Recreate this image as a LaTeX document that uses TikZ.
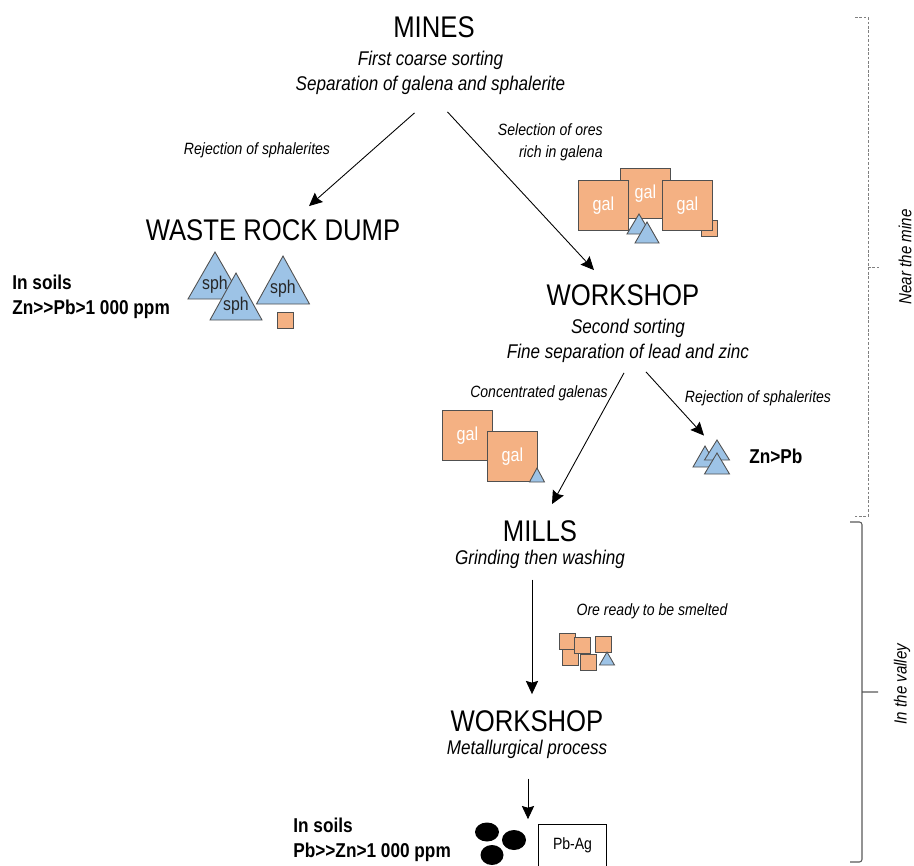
\documentclass[tikz,border=0pt]{standalone}
\usepackage{fontspec}
\setmainfont[FakeStretch=0.86]{Liberation Sans}
\usetikzlibrary{positioning, arrows.meta, shapes.geometric}
\definecolor{oreorange}{HTML}{F4B183}
\definecolor{oreblue}{HTML}{9DC3E6}
\definecolor{oreline}{HTML}{505050}
\tikzset{
  steptitle/.style={font=\fontsize{17}{18}\selectfont, inner sep=0pt},
  stepnote/.style={font=\fontsize{11.3}{14}\selectfont\itshape, align=center, inner sep=0pt},
  flownote/.style={font=\fontsize{9.3}{12.4}\selectfont\itshape, inner sep=0pt},
  soilnote/.style={font=\fontsize{11.4}{14}\selectfont\bfseries, align=left, anchor=west, inner sep=0pt},
  flow/.style={->, >={Stealth[length=7.5pt,width=7pt,inset=1pt]}, line width=.5pt},
  oresquare/.style={draw=oreline, fill=oreorange, line width=.5pt, anchor=north west, inner sep=0pt, text=white, font=\fontsize{10.7}{10}\selectfont},
  oretriangle/.style={draw=oreline, fill=oreblue, line width=.5pt, line join=miter},
  oretext/.style={inner sep=0pt, font=\fontsize{10.5}{10}\selectfont, text=black!85},
  leadgrain/.style={fill=black, ellipse, inner sep=0pt},
  sidenote/.style={font=\fontsize{10}{10}\selectfont\itshape, rotate=90, inner sep=0pt},
}
\newcommand{\oresq}[5]{\node[oresquare, minimum size=#4*.02cm] (#1) at (#2,#3) {#5};}
\newcommand{\oretri}[6]{\draw[oretriangle] (#2,#3) -- ++(#4/2,#5) -- ++(-#4,0) -- cycle;
\node[oretext] (#1) at (#2,{#3+#5*.69}) {#6};}
\newcommand{\grain}[5]{\node[leadgrain, minimum width=#4*.02cm, minimum height=#5*.02cm] (#1) at (#2,#3) {};}

\begin{document}
\begin{tikzpicture}[x=.02cm, y=-.02cm]
\useasboundingbox (0,0) rectangle (914,866);

% steps of the chain
\node[steptitle] (mines) at (434,27) {MINES};
\node[stepnote, below=7.5pt of mines, xshift=-3.5*.02cm] (minesnote) {First coarse sorting\\Separation of galena and sphalerite};
\node[steptitle] (waste) at (273,230) {WASTE ROCK DUMP};
\node[steptitle] (shopa) at (623,295) {WORKSHOP};
\node[stepnote, below=7.5pt of shopa, xshift=5*.02cm] (shopanote) {Second sorting\\Fine separation of lead and zinc};
\node[steptitle] (mills) at (540,531) {MILLS};
\node[stepnote, below=4.2pt of mills] (millsnote) {Grinding then washing};
\node[steptitle] (shopb) at (527,721) {WORKSHOP};
\node[stepnote, below=4.2pt of shopb] (shopbnote) {Metallurgical process};

% texts beside the arrows
\node[flownote] (rejecta) at (257,150) {Rejection of sphalerites};
\node[flownote, align=right, anchor=east] (select) at (603,142) {Selection of ores\\rich in galena};
\node[flownote] (concen) at (539,393) {Concentrated galenas};
\node[flownote] (rejectb) at (758,398) {Rejection of sphalerites};
\node[flownote] (ready) at (652,611) {Ore ready to be smelted};

\node[soilnote] (soila) at (12,297) {In soils\\Zn>{}>Pb>1 000 ppm};
\node[soilnote] (soilb) at (293,840) {In soils\\Pb>{}>Zn>1 000 ppm};
\node[soilnote] (znpb) at (749,456) {Zn>Pb};

% waste rock
\oretri{spha}{215}{252}{54}{47}{sph}
\oretri{sphb}{236}{273}{52}{47}{sph}
\oretri{sphc}{283}{256}{53}{48}{sph}
\oresq{wastesq}{277}{312}{16}{}

% rich ores
\oresq{galb}{620}{168}{50}{gal}
\oresq{smallsq}{701}{220}{16}{}
\oresq{gala}{578}{180}{50}{gal}
\oresq{galc}{662}{180}{50}{gal}
\oretri{richa}{639}{214}{24}{20}{}
\oretri{richb}{647}{222}{24}{21}{}

% concentrated ores
\oresq{gald}{442}{410}{50}{gal}
\oresq{gale}{487}{431}{50}{gal}
\oretri{conctri}{537}{468}{15}{14}{}

% rejected ores
\oretri{reja}{705}{446}{24}{21}{}
\oretri{rejb}{717}{440}{25}{20}{}
\oretri{rejc}{717}{453}{25}{21}{}

% ready ores
\oresq{reada}{562}{649}{16}{}
\oresq{readb}{559}{633}{16}{}
\oresq{readc}{574}{637}{16}{}
\oresq{readd}{580}{654}{16}{}
\oresq{reade}{595}{636}{16}{}
\oretri{readtri}{607}{652}{15}{13}{}

% metal
\grain{graina}{487}{832}{24}{19}
\grain{grainb}{514}{840}{24}{20}
\grain{grainc}{492}{855}{23}{20}
\node[draw, line width=.6pt, minimum width=68*.02cm, minimum height=42*.02cm, inner sep=0pt, anchor=north west, font=\fontsize{9.3}{10}\selectfont] (metal) at (538,824) {Pb-Ag};

% arrows
\draw[flow] ([shift={(-16,18)}]minesnote.south) -- ([shift={(36,-13)}]waste.north);
\draw[flow] ([shift={(17,17)}]minesnote.south) -- ([shift={(-29,-14)}]shopa.north);
\draw[flow] ([shift={(-4,10)}]shopanote.south) -- ([shift={(12,-16)}]mills.north);
\draw[flow] ([shift={(18,9)}]shopanote.south) -- ([shift={(-13,-17)}]rejb.north);
\draw[flow] ([shift={(-8,11)}]millsnote.south) -- ([shift={(5,-16)}]shopb.north);
\draw[flow] ([shift={(1,20)}]shopbnote.south) -- ([shift={(41,-3)}]graina.north);

% side brackets
\coordinate (neartip) at (880,267);
\coordinate (valleytip) at (878,692);
\draw[dash pattern=on 1.5pt off 1pt, gray, line width=.5pt] (855,17) -- (868,17) -- (868,516) -- (855,516) (868,267) -- (neartip);
\draw[gray!70!black, line width=.6pt, rounded corners=1.5pt] (850,522) -- (862,522) -- (862,862) -- (850,862) (862,692) -- (valleytip);
\node[sidenote] (near) at (905,257) {Near the mine};
\node[sidenote] (valley) at (902,684) {In the valley};
\end{tikzpicture}
\end{document}
